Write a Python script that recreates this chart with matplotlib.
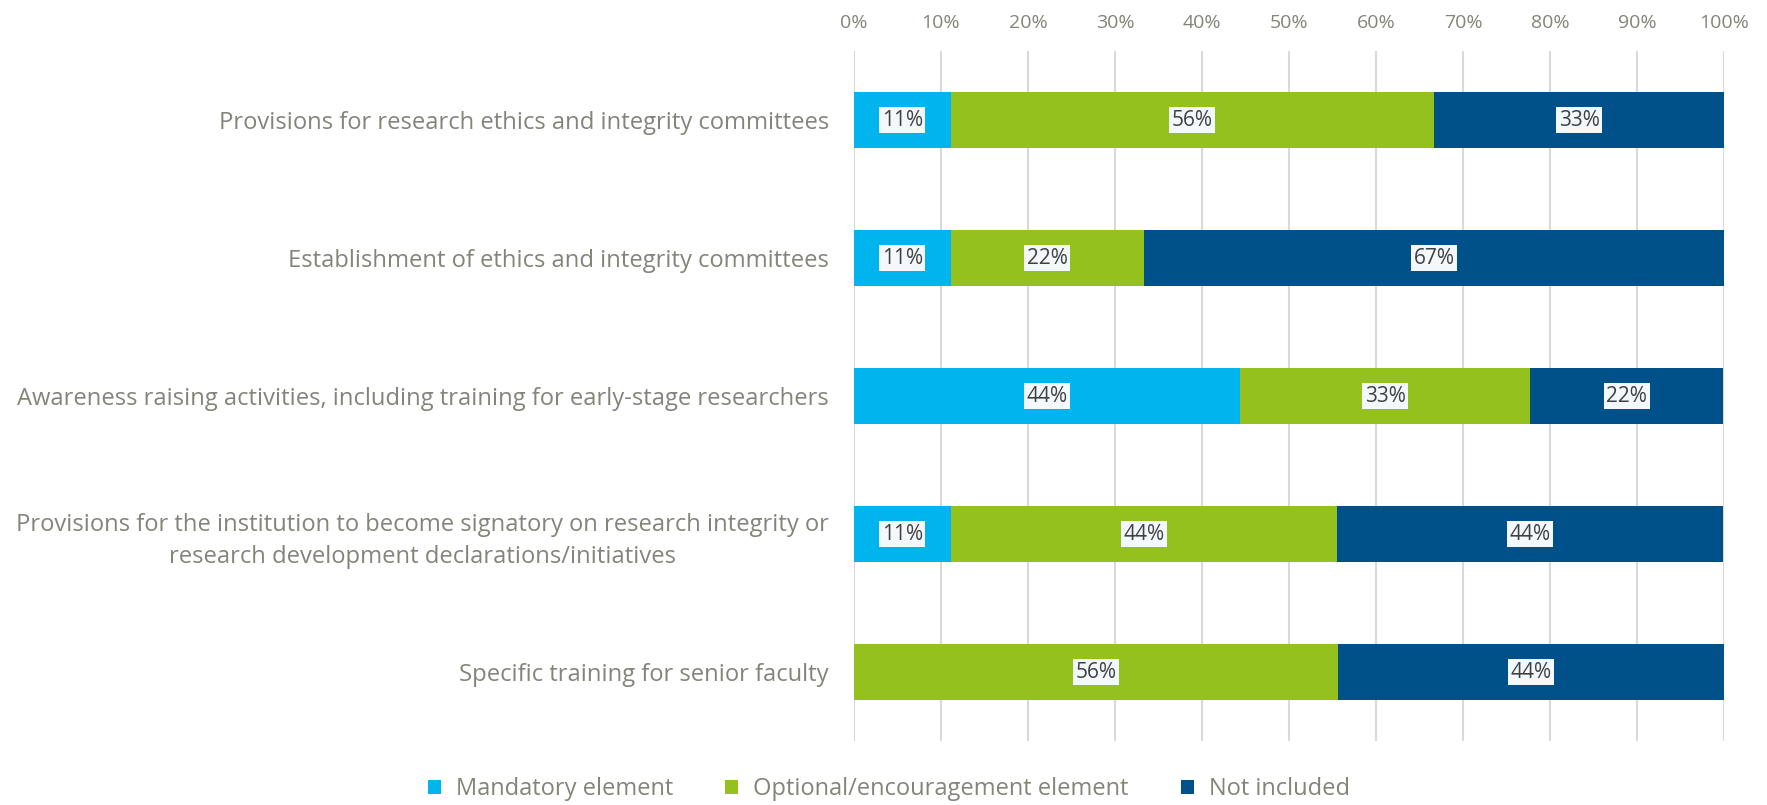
import matplotlib
matplotlib.use("Agg")
import matplotlib.pyplot as plt
import numpy as np

categories = [
    "Provisions for research ethics and integrity committees",
    "Establishment of ethics and integrity committees",
    "Awareness raising activities, including training for early-stage researchers",
    "Provisions for the institution to become signatory on research integrity or\nresearch development declarations/initiatives",
    "Specific training for senior faculty",
]
series_names = ["Mandatory element", "Optional/encouragement element", "Not included"]
mandatory = [11.1, 11.1, 44.4, 11.1, 0.0]
optional = [55.6, 22.2, 33.3, 44.4, 55.6]
not_included = [33.3, 66.7, 22.2, 44.4, 44.4]
colors = ["#00B4EE", "#95C11F", "#00518A"]
tick_labels = [f"{v}%" for v in range(0, 101, 10)]

plt.rcParams['font.family'] = ['Open Sans', 'DejaVu Sans']
text_gray = "#84847A"

fig = plt.figure(figsize=(17.67, 8.05), dpi=100)
ax = fig.add_axes([0.4833, 1 - 741 / 805, 0.4924, 690 / 805])

y = np.arange(len(categories))
left = np.zeros(len(categories))
for vals, name, col in zip([mandatory, optional, not_included], series_names, colors):
    vals = np.array(vals)
    ax.barh(y, vals, left=left, height=0.41, color=col, label=name, zorder=2)
    for yi, (l, v) in enumerate(zip(left, vals)):
        if v > 0:
            ax.text(l + v / 2, yi, f"{v:.0f}%", ha="center", va="center",
                    fontsize=15, color="#404040", zorder=3,
                    bbox=dict(boxstyle="square,pad=0.12", fc="#F2F8FC", ec="none"))
    left = left + vals

ax.set_xlim(0, 100)
ax.set_ylim(len(categories) - 0.5, -0.5)
ax.set_xticks(np.arange(0, 101, 10))
ax.set_xticklabels(tick_labels)
ax.xaxis.tick_top()
ax.tick_params(axis="x", length=0, pad=14, labelsize=14, labelcolor=text_gray)
ax.set_yticks(y)
ax.set_yticklabels(categories, fontsize=17.1, color=text_gray, ha="right", multialignment="center",
                   linespacing=1.45)
ax.tick_params(axis="y", length=0, pad=18)
ax.grid(axis="x", color="#D9D9D9", linewidth=1.5, zorder=0)
for s in ax.spines.values():
    s.set_visible(False)

leg = fig.legend(loc="center", bbox_to_anchor=(0.503, 1 - 789 / 805), ncol=3, frameon=False,
                 fontsize=17, handlelength=0.55, handleheight=0.55, columnspacing=2.2,
                 handletextpad=0.65)
for t in leg.get_texts():
    t.set_color(text_gray)

fig.savefig("out.png", dpi=100)
